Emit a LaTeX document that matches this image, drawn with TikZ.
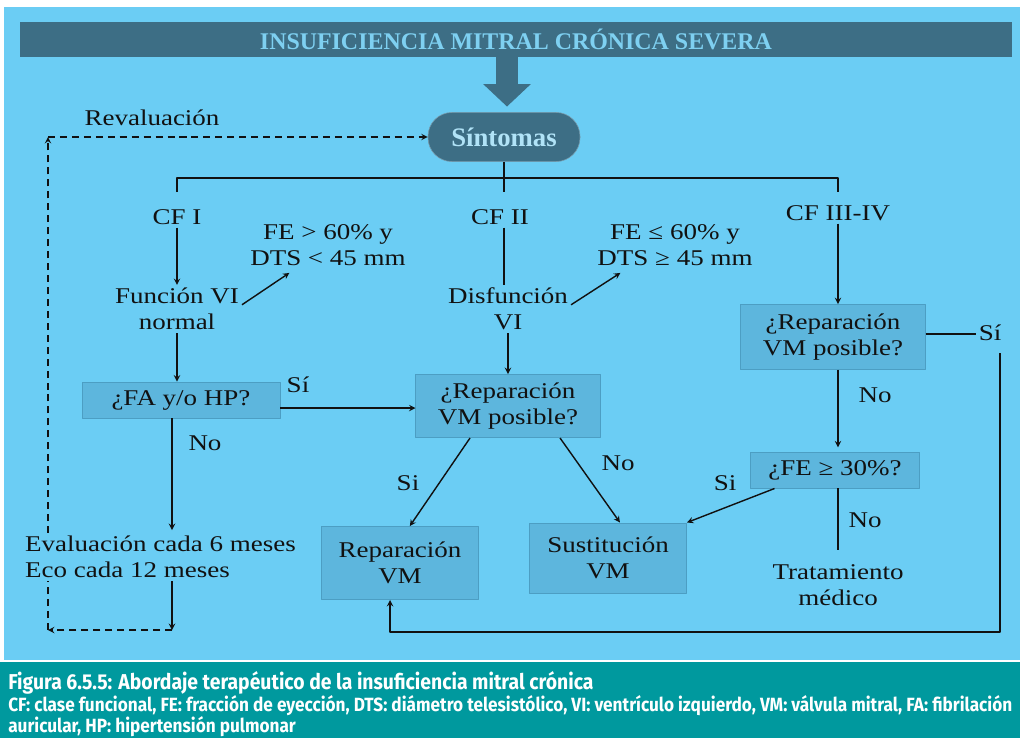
\documentclass[tikz,border=0pt]{standalone}
\usepackage{fontspec}
\setmainfont{Liberation Serif}
\newfontfamily\bodyfont{Liberation Serif}[FakeStretch=1.2]
\newfontfamily\capfont{Fira Sans}[FakeStretch=0.9]
\usetikzlibrary{arrows.meta}
\definecolor{skyblue}{HTML}{6BCDF4}
\definecolor{boxfill}{HTML}{5DB6DD}
\definecolor{boxedge}{HTML}{4C9EC3}
\definecolor{darkbar}{HTML}{3D6E85}
\definecolor{titletext}{HTML}{7ED0F1}
\definecolor{capteal}{HTML}{00999E}
\definecolor{ink}{HTML}{111111}
\tikzset{
  txt/.style={font=\bodyfont\fontsize{16}{18.5}\selectfont, text=ink, align=center, inner sep=2pt},
  box/.style={txt, draw=boxedge, fill=boxfill, line width=0.7pt, inner sep=0pt},
  conn/.style={draw=ink, line width=1pt},
  revline/.style={conn, dash pattern=on 5pt off 3.5pt},
  bigarrow/.style={draw=darkbar, line width=15pt, -{Triangle[width=33pt,length=16pt]}},
}
\begin{document}
\begin{tikzpicture}[line join=round, >=stealth, x=0.025cm, y=-0.025cm]
\useasboundingbox (0,0) rectangle (1020,738);
\fill[white] (0,0) rectangle (1020,738);
\fill[skyblue] (4,7) rectangle (1020,660);
\fill[capteal] (0,662) rectangle (1020,738);
% title and symptoms
\node[fill=darkbar, minimum width=705.6pt, minimum height=24.9pt, text=titletext, font=\bfseries\fontsize{17}{20}\selectfont] (title) at (516,39.5) {INSUFICIENCIA MITRAL CRÓNICA SEVERA};
\node[fill=darkbar, draw=darkbar!70!white, rounded corners=17pt, minimum width=108.1pt, minimum height=34.9pt, text=titletext!60!white, font=\bfseries\fontsize{19}{22}\selectfont] (sint) at (504,137) {Síntomas};
\draw[bigarrow] (title.south -| 507,0) -- ([yshift=4pt]sint.north -| 507,0);
\node[txt] (reval) at (152,118) {Revaluación};
% classes
\node[txt] (cf1) at (177,217) {CF I};
\node[txt] (cf2) at (500,217) {CF II};
\node[txt] (cf34) at (838,213) {CF III-IV};
\node[txt] (fun) at (177,309) {Función VI\\normal};
\node[txt] (dis) at (508,309) {Disfunción\\VI};
\node[txt] (fea) at (328,245) {FE > 60\% y\\DTS < 45 mm};
\node[txt] (feb) at (675,245) {FE ≤ 60\% y\\DTS ≥ 45 mm};
% decisions
\node[box, minimum width=140.8pt, minimum height=25.6pt] (fa) at (181,400) {¿FA y/o HP?};
\node[box, minimum width=130.9pt, minimum height=44.8pt] (rep2) at (508,406) {¿Reparación\\VM posible?};
\node[box, minimum width=130.9pt, minimum height=46.2pt] (rep3) at (833,337) {¿Reparación\\VM posible?};
\node[box, minimum width=120.2pt, minimum height=25.6pt] (fe30) at (835,470) {¿FE ≥ 30\%?};
\node[box, minimum width=111pt, minimum height=51.9pt] (repvm) at (400,563) {Reparación\\VM};
\node[box, minimum width=111.7pt, minimum height=49.8pt] (sust) at (608,558) {Sustitución\\VM};
\node[txt, anchor=west, align=left] (eval) at (22,557) {Evaluación cada 6 meses\\Eco cada 12 meses};
\node[txt] (trat) at (838,585) {Tratamiento\\médico};
% branch labels
\node[txt] (si1) at (298,385) {Sí};
\node[txt] (no1) at (205,443) {No};
\node[txt] (si2) at (408,483) {Si};
\node[txt] (no2) at (618,463) {No};
\node[txt] (no3) at (875,395) {No};
\node[txt] (si3) at (725,483) {Si};
\node[txt] (no4) at (865,520) {No};
\node[txt] (si4) at (990,333) {Sí};
\coordinate (b1) at (177,192);
\coordinate (b2) at (504,192);
\coordinate (b3) at (838,192);
\coordinate (brk) at (504,178);
\coordinate (evtop) at (172,530);
\coordinate (evbot) at (172,630);
\coordinate (lp1) at (48,630);
\coordinate (lp2) at (48,137);
\coordinate (rc0) at (1000,353);
\coordinate (rc1) at (1000,632);
\coordinate (rc2) at (390,632);
% connectors
\draw[conn] (sint.south) -- (b2);
\draw[conn] (b1) -- (b1 |- brk) -- (b3 |- brk) -- (b3);
\draw[conn,->] (cf1) -- (fun);
\draw[conn,->] ([yshift=3pt]fun.east) -- ([xshift=30pt,yshift=-3pt]fea.south west);
\draw[conn] (cf2.south -| b2) -- (dis.north -| b2);
\draw[conn,->] (dis.south) -- (rep2.north);
\draw[conn,->] ([yshift=3pt]dis.east) -- ([xshift=18.5pt,yshift=-3pt]feb.south west);
\draw[conn,->] (fun.south) -- (fun.south |- fa.north);
\draw[conn,->] ([yshift=-5.7pt]fa.east) -- ([yshift=-5.7pt]fa.east -| rep2.west);
\draw[conn,->] (fa.south -| evtop) -- (evtop);
\draw[conn,->] (eval.south -| evbot) -- (evbot);
\draw[revline,->] (evbot) -- (lp1);
\draw[revline] (lp1) -- (lp1 |- eval.south);
\draw[revline,->] (lp1 |- eval.north) -- (lp2);
\draw[revline,->] (lp2) -- (sint.west);
\draw[conn,->] ([xshift=-27pt]rep2.south) -- ([xshift=7pt]repvm.north);
\draw[conn,->] ([xshift=37pt]rep2.south) -- ([xshift=8.5pt]sust.north);
\draw[conn,->] (cf34.south) -- (cf34.south |- rep3.north);
\draw[conn,->] (rep3.south -| cf34) -- ([yshift=3pt]fe30.north -| cf34);
\draw[conn] ([yshift=2pt]rep3.east) -- ([yshift=2pt]rep3.east -| si4.west);
\draw[conn,->] (rc0) -- (rc1) -- (rc2) -- (rc2 |- repvm.south);
\draw[conn,->] ([xshift=-43pt]fe30.south) -- (sust.north east);
\draw[conn] (fe30.south -| trat) -- ([yshift=8pt]trat.north);
% caption
\node[anchor=west, inner sep=0pt, text=white, font=\capfont\bfseries\fontsize{15.3}{18}\selectfont] (figcap) at (8,683) {Figura 6.5.5: Abordaje terapéutico de la insuficiencia mitral crónica};
\node[anchor=north west, inner sep=0pt, text=white, align=left, font=\capfont\bfseries\fontsize{13.6}{15}\selectfont] (legend) at (8,695) {CF: clase funcional, FE: fracción de eyección, DTS: diámetro telesistólico, VI: ventrículo izquierdo, VM: válvula mitral, FA: fibrilación\\auricular, HP: hipertensión pulmonar};
\end{tikzpicture}
\end{document}
